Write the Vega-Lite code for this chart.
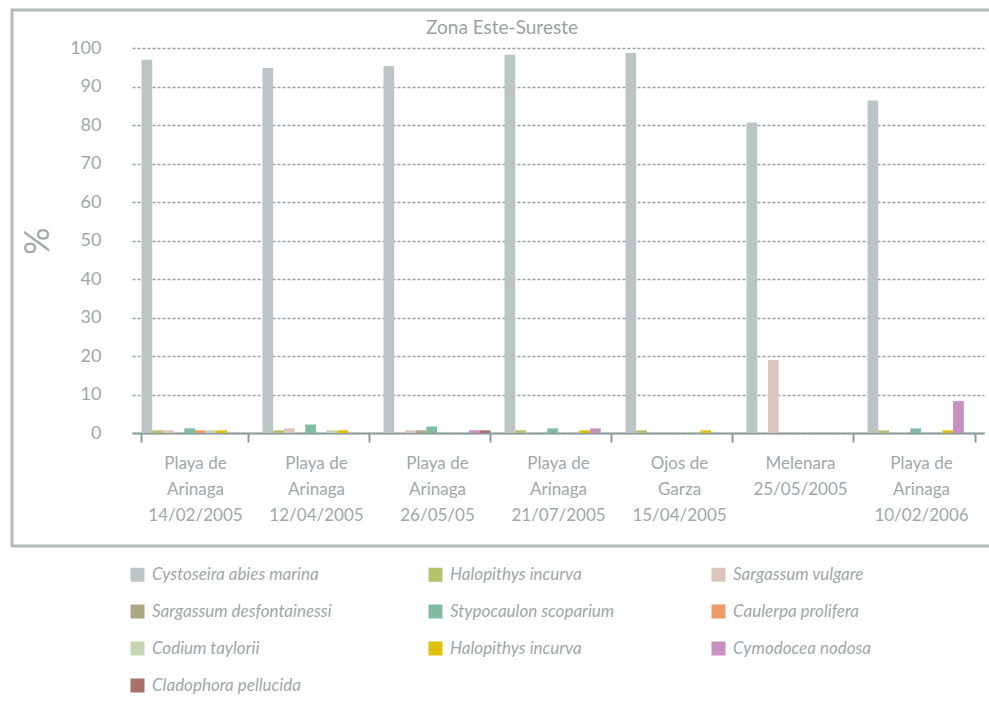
{
  "$schema": "https://vega.github.io/schema/vega-lite/v6.json",
  "background": "white",
  "padding": {"left": 10, "top": 8, "right": 0, "bottom": 0},
  "bounds": "flush",
  "spacing": 0,
  "config": {
    "font": "Lato",
    "view": {"stroke": "#b3bcbc", "strokeWidth": 3},
    "axis": {"labelFont": "Lato", "labelColor": "#9ea9a9", "titleFont": "Lato", "titleColor": "#9ea9a9", "titleFontWeight": "normal"}
  },
  "datasets": {
    "cobertura": [
      {"muestreo": "Playa de\nArinaga\n14/02/2005", "especie": "Cystoseira abies marina", "porcentaje": 97.0},
      {"muestreo": "Playa de\nArinaga\n14/02/2005", "especie": "Halopithys incurva", "porcentaje": 0.7},
      {"muestreo": "Playa de\nArinaga\n14/02/2005", "especie": "Sargassum vulgare", "porcentaje": 0.7},
      {"muestreo": "Playa de\nArinaga\n14/02/2005", "especie": "Stypocaulon scoparium", "porcentaje": 1.2},
      {"muestreo": "Playa de\nArinaga\n14/02/2005", "especie": "Caulerpa prolifera", "porcentaje": 0.7},
      {"muestreo": "Playa de\nArinaga\n14/02/2005", "especie": "Codium taylorii", "porcentaje": 0.7},
      {"muestreo": "Playa de\nArinaga\n14/02/2005", "especie": "Halopithys incurva (2)", "porcentaje": 0.7},

      {"muestreo": "Playa de\nArinaga\n12/04/2005", "especie": "Cystoseira abies marina", "porcentaje": 94.9},
      {"muestreo": "Playa de\nArinaga\n12/04/2005", "especie": "Halopithys incurva", "porcentaje": 0.7},
      {"muestreo": "Playa de\nArinaga\n12/04/2005", "especie": "Sargassum vulgare", "porcentaje": 1.2},
      {"muestreo": "Playa de\nArinaga\n12/04/2005", "especie": "Stypocaulon scoparium", "porcentaje": 2.2},
      {"muestreo": "Playa de\nArinaga\n12/04/2005", "especie": "Codium taylorii", "porcentaje": 0.7},
      {"muestreo": "Playa de\nArinaga\n12/04/2005", "especie": "Halopithys incurva (2)", "porcentaje": 0.7},

      {"muestreo": "Playa de\nArinaga\n26/05/05", "especie": "Cystoseira abies marina", "porcentaje": 95.4},
      {"muestreo": "Playa de\nArinaga\n26/05/05", "especie": "Sargassum vulgare", "porcentaje": 0.7},
      {"muestreo": "Playa de\nArinaga\n26/05/05", "especie": "Sargassum desfontainessi", "porcentaje": 0.7},
      {"muestreo": "Playa de\nArinaga\n26/05/05", "especie": "Stypocaulon scoparium", "porcentaje": 1.7},
      {"muestreo": "Playa de\nArinaga\n26/05/05", "especie": "Cymodocea nodosa", "porcentaje": 0.7},
      {"muestreo": "Playa de\nArinaga\n26/05/05", "especie": "Cladophora pellucida", "porcentaje": 0.7},

      {"muestreo": "Playa de\nArinaga\n21/07/2005", "especie": "Cystoseira abies marina", "porcentaje": 98.3},
      {"muestreo": "Playa de\nArinaga\n21/07/2005", "especie": "Halopithys incurva", "porcentaje": 0.7},
      {"muestreo": "Playa de\nArinaga\n21/07/2005", "especie": "Stypocaulon scoparium", "porcentaje": 1.2},
      {"muestreo": "Playa de\nArinaga\n21/07/2005", "especie": "Halopithys incurva (2)", "porcentaje": 0.7},
      {"muestreo": "Playa de\nArinaga\n21/07/2005", "especie": "Cymodocea nodosa", "porcentaje": 1.2},

      {"muestreo": "Ojos de\nGarza\n15/04/2005", "especie": "Cystoseira abies marina", "porcentaje": 98.8},
      {"muestreo": "Ojos de\nGarza\n15/04/2005", "especie": "Halopithys incurva", "porcentaje": 0.7},
      {"muestreo": "Ojos de\nGarza\n15/04/2005", "especie": "Halopithys incurva (2)", "porcentaje": 0.7},

      {"muestreo": "Melenara\n25/05/2005", "especie": "Cystoseira abies marina", "porcentaje": 80.7},
      {"muestreo": "Melenara\n25/05/2005", "especie": "Sargassum vulgare", "porcentaje": 19.0},

      {"muestreo": "Playa de\nArinaga\n10/02/2006", "especie": "Cystoseira abies marina", "porcentaje": 86.4},
      {"muestreo": "Playa de\nArinaga\n10/02/2006", "especie": "Halopithys incurva", "porcentaje": 0.7},
      {"muestreo": "Playa de\nArinaga\n10/02/2006", "especie": "Stypocaulon scoparium", "porcentaje": 1.2},
      {"muestreo": "Playa de\nArinaga\n10/02/2006", "especie": "Halopithys incurva (2)", "porcentaje": 0.7},
      {"muestreo": "Playa de\nArinaga\n10/02/2006", "especie": "Cymodocea nodosa", "porcentaje": 8.3}
    ]
  },
  "vconcat": [
    {
      "width": 980,
      "height": 536,
      "data": {"name": "cobertura"},
      "title": {
        "text": "Zona Este-Sureste",
        "anchor": "middle",
        "frame": "group",
        "baseline": "alphabetic",
        "offset": -43,
        "font": "Lato",
        "fontSize": 19,
        "fontWeight": "normal",
        "color": "#98a3a3"
      },
      "mark": {"type": "bar"},
      "encoding": {
        "x": {
          "field": "muestreo",
          "type": "nominal",
          "sort": null,
          "scale": {"range": [120, 972], "paddingInner": 0.116, "paddingOuter": 0.0785},
          "axis": {
            "title": null,
            "offset": -113,
            "grid": false,
            "domainColor": "#8a9b9b",
            "domainWidth": 2,
            "tickBand": "extent",
            "tickColor": "#8a9b9b",
            "tickWidth": 2,
            "tickSize": 9,
            "labelAngle": 0,
            "labelExpr": "split(datum.label, '\\n')",
            "labelFontSize": 17,
            "labelLineHeight": 26,
            "labelBaseline": "middle",
            "labelPadding": 21,
            "labelLimit": 0
          }
        },
        "xOffset": {
          "field": "especie",
          "type": "nominal",
          "scale": {
            "domain": ["Cystoseira abies marina", "Halopithys incurva", "Sargassum vulgare", "Sargassum desfontainessi", "Stypocaulon scoparium", "Caulerpa prolifera", "Codium taylorii", "Halopithys incurva (2)", "Cymodocea nodosa", "Cladophora pellucida"],
            "paddingInner": 0,
            "paddingOuter": 0
          }
        },
        "y": {
          "field": "porcentaje",
          "type": "quantitative",
          "scale": {"domain": [0, 100], "range": [423, 38.3], "nice": false},
          "axis": {
            "title": "%",
            "values": [0, 10, 20, 30, 40, 50, 60, 70, 80, 90, 100],
            "offset": -90,
            "domain": false,
            "ticks": false,
            "tickSize": 0,
            "labelPadding": 1,
            "labelFontSize": 18,
            "grid": true,
            "gridColor": "#95a2a2",
            "gridDash": [3, 2],
            "gridWidth": 1.5,
            "titleFontSize": 34,
            "titleX": -64,
            "titleAlign": "center",
            "titleBaseline": "middle"
          }
        },
        "color": {
          "field": "especie",
          "type": "nominal",
          "scale": {
            "domain": ["Cystoseira abies marina", "Halopithys incurva", "Sargassum vulgare", "Sargassum desfontainessi", "Stypocaulon scoparium", "Caulerpa prolifera", "Codium taylorii", "Halopithys incurva (2)", "Cymodocea nodosa", "Cladophora pellucida"],
            "range": ["#bcc5c6", "#b7c26d", "#dbc6bd", "#a9a883", "#80bca0", "#eb9a68", "#c4d5b1", "#dfc10a", "#c88fc1", "#a8706a"]
          },
          "legend": {
            "orient": "none",
            "legendX": 117,
            "legendY": 556,
            "columns": 3,
            "direction": "horizontal",
            "title": null,
            "padding": 0,
            "symbolType": "square",
            "symbolSize": 196,
            "symbolStrokeWidth": 0,
            "symbolOpacity": 1,
            "labelFont": "Lato",
            "labelFontSize": 17,
            "labelFontStyle": "italic",
            "labelColor": "#9ea8a8",
            "labelOffset": 6,
            "labelLimit": 0,
            "rowPadding": 19,
            "columnPadding": 95,
            "gridAlign": "each",
            "labelExpr": "replace(datum.label, ' (2)', '')"
          }
        }
      }
    },
    {
      "width": 980,
      "height": 168,
      "data": {"values": []},
      "mark": "point",
      "encoding": {}
    }
  ]
}
